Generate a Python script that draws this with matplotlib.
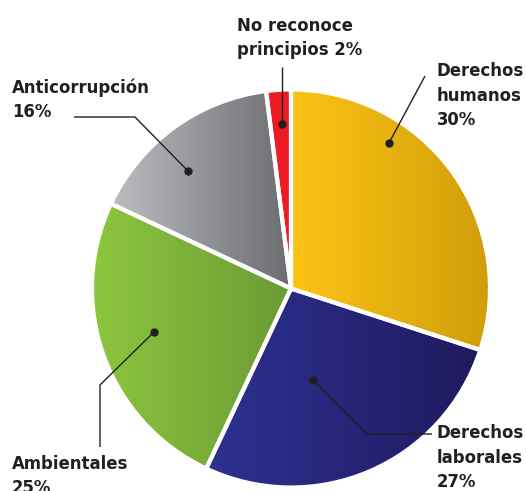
import matplotlib
matplotlib.use("Agg")
import matplotlib.pyplot as plt
from matplotlib import font_manager as fm
from matplotlib.colors import LinearSegmentedColormap
import numpy as np

# narrow bold face if the system has one, else Roboto
narrow = [f for f in fm.fontManager.ttflist
          if f.weight in ('bold', 700) and f.style == 'normal'
          and ('Narrow' in f.name or 'Condensed' in f.name
               or f.stretch in ('condensed', 'semi-condensed'))]
if narrow:
    FONT = fm.FontProperties(fname=narrow[0].fname, size=13.2)
else:
    FONT = fm.FontProperties(family='Roboto', weight='bold', size=12.5)

# data
labels = ['Derechos\nhumanos\n30%', 'Derechos\nlaborales\n27%', 'Ambientales\n25%',
          'Anticorrupción\n16%', 'No reconoce\nprincipios 2%']
shares = [30, 27, 25, 16, 2]
grad_left = ['#FCC315', '#2E3192', '#8DC63F', '#BDBEC2', '#ED1C24']
grad_right = ['#D19E0B', '#1F1A5E', '#6B9B34', '#6B6C70', '#ED1C24']

W, H = 526, 491
TXT = '#231F20'


def py(y):
    # pixel row (from top) -> data y
    return H - y


fig = plt.figure(figsize=(W / 100, H / 100), dpi=100)
ax = fig.add_axes([0, 0, 1, 1])

wedges, _ = ax.pie(shares, startangle=90, counterclock=False,
                   center=(291, py(288.5)), radius=199, frame=True,
                   wedgeprops=dict(edgecolor='white', linewidth=3))

grad = np.linspace(0, 1, 256).reshape(1, -1)
for w, c0, c1 in zip(wedges, grad_left, grad_right):
    ext = w.get_path().get_extents()
    cmap = LinearSegmentedColormap.from_list('g', [c0, c1])
    im = ax.imshow(grad, cmap=cmap, aspect='auto', zorder=2,
                   extent=[ext.x0, ext.x1, ext.y0, ext.y1])
    im.set_clip_path(w)
    w.set_facecolor('none')
    w.set_zorder(3)

# labels: (text x, baseline of last line), leader path ending at the dot
label_pos = [(437, 125), (437, 487), (12, 493), (12, 117), (237, 55)]
leaders = [
    [(425, 76), (389, 143)],
    [(432, 434), (367, 434), (313, 380)],
    [(100, 447), (100, 385), (154, 332)],
    [(74, 117), (135, 117), (188, 171)],
    [(282, 67), (282, 124)],
]

for lab, (tx, ty), path in zip(labels, label_pos, leaders):
    ax.text(tx, py(ty), lab, ha='left', va='baseline', fontproperties=FONT,
            color=TXT, linespacing=1.45, zorder=5)
    xs = [p[0] for p in path]
    ys = [py(p[1]) for p in path]
    ax.plot(xs, ys, color=TXT, lw=1.0, zorder=6, solid_capstyle='butt')
    ax.plot(xs[-1], ys[-1], 'o', color=TXT, ms=5, zorder=7)

ax.set_xlim(0, W)
ax.set_ylim(0, H)
ax.set_aspect('equal')
ax.axis('off')

fig.savefig('out.png', dpi=100, facecolor='white')
